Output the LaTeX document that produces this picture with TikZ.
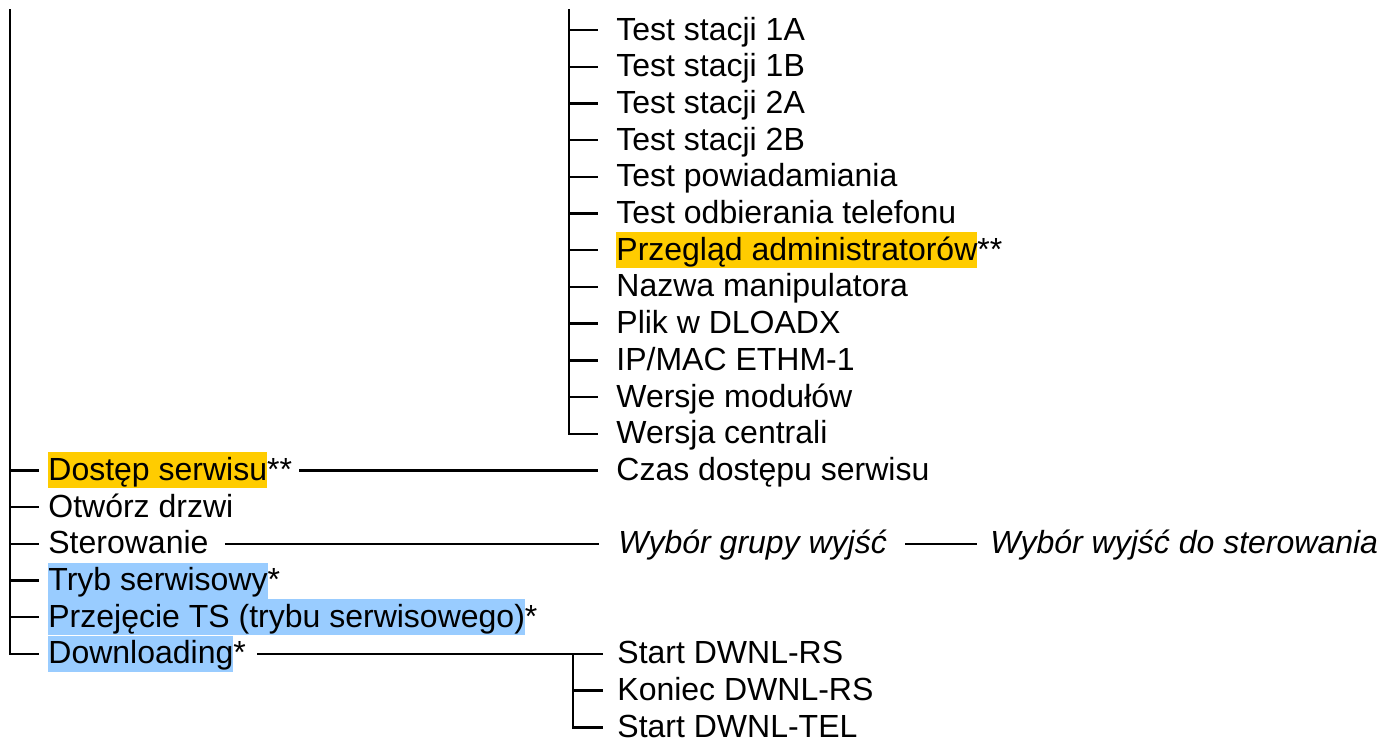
\documentclass[tikz,border=0pt]{standalone}
\usepackage{fontspec}
\setmainfont{Liberation Sans}
\usepackage{tikz}
\usetikzlibrary{calc,positioning}
\definecolor{hlgold}{RGB}{255,204,0}
\definecolor{hlblue}{RGB}{153,204,255}
\tikzset{
  treeline/.style={draw=black,line width=1.2pt},
  itemnode/.style={anchor=west,inner sep=0pt,text height=14pt,text depth=4pt,
    font=\fontsize{16}{19}\selectfont},
}
\newcommand{\hlbox}[2]{{\setlength{\fboxsep}{0pt}\colorbox{#1}{\rule[-4pt]{0pt}{18pt}#2}}}
% row k of the menu sits at y = 30 + 36.7 k
\newcommand{\mitem}[4]{\node[itemnode] (#1) at ({#2},{30+36.7*#3}) {#4};}

\begin{document}
\begin{tikzpicture}[x=0.5pt,y=-0.5pt]
    \useasboundingbox (0,0) rectangle (1388,741);
    \coordinate (trunkA) at (10,9);
    \coordinate (trunkB) at (569,9);
    % upper submenu
    \foreach \nm/\k/\txt in {t1a/0/{Test stacji 1A},t1b/1/{Test stacji 1B},
        t2a/2/{Test stacji 2A},t2b/3/{Test stacji 2B},tpow/4/{Test powiadamiania},
        todb/5/{Test odbierania telefonu},
        tadm/6/{\hlbox{hlgold}{Przegląd administratorów}**},
        tnaz/7/{Nazwa manipulatora},tplik/8/{Plik w DLOADX},tip/9/{IP/MAC ETHM-1},
        tmod/10/{Wersje modułów},wcentr/11/{Wersja centrali}}{
      \mitem{\nm}{616}{\k}{\txt}
      \draw[treeline,shorten >=9pt] (trunkB |- \nm.west) -- (\nm.west);}
    \draw[treeline,shorten >=9pt] (trunkB) |- (wcentr.west);
    % main list
    \foreach \nm/\k/\txt in {dostep/12/{\hlbox{hlgold}{Dostęp serwisu}**},
        otworz/13/{Otwórz drzwi},sterow/14/{Sterowanie},
        tryb/15/{\hlbox{hlblue}{Tryb serwisowy}*},
        przej/16/{\hlbox{hlblue}{Przejęcie TS (trybu serwisowego)}*},
        download/17/{\hlbox{hlblue}{Downloading}*}}{
      \mitem{\nm}{48}{\k}{\txt}
      \draw[treeline,shorten >=4.5pt] (trunkA |- \nm.west) -- (\nm.west);}
    \draw[treeline,shorten >=4.5pt] (trunkA) |- (download.west);
    % side branches
    \mitem{czas}{616}{12}{Czas dostępu serwisu}
    \draw[treeline,shorten <=3.5pt,shorten >=9pt] (dostep.east) -- (czas.west);
    \mitem{grupa}{618}{14}{\itshape Wybór grupy wyjść}
    \mitem{wyjscia}{990}{14}{\itshape Wybór wyjść do sterowania}
    \draw[treeline,shorten <=8pt,shorten >=9.5pt] (sterow.east) -- (grupa.west);
    \draw[treeline,shorten <=9pt,shorten >=6.5pt] (grupa.east) -- (wyjscia.west);
    % downloading submenu
    \mitem{dstart}{617}{17}{Start DWNL-RS}
    \mitem{dkoniec}{617}{18}{Koniec DWNL-RS}
    \mitem{dtel}{617}{19}{Start DWNL-TEL}
    \coordinate (trunkC) at ($(dstart.west)+(-22pt,0)$);
    \draw[treeline,shorten <=5.5pt,shorten >=7pt] (download.east) -- (dstart.west);
    \draw[treeline,shorten >=7pt] (trunkC |- dkoniec.west) -- (dkoniec.west);
    \draw[treeline,shorten >=7pt] (trunkC) |- (dtel.west);
  \end{tikzpicture}
\end{document}
